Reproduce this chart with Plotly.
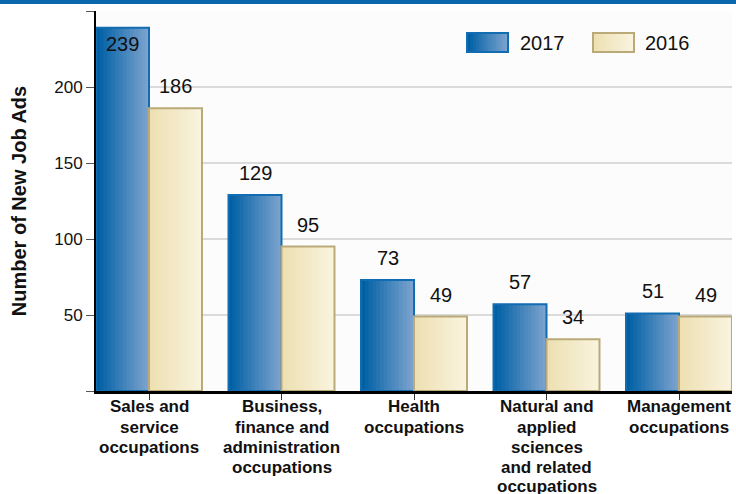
import plotly.graph_objects as go
import numpy as np

categories = ["Sales and<br>service<br>occupations",
              "Business,<br>finance and<br>administration<br>occupations",
              "Health<br>occupations",
              "Natural and<br>applied<br>sciences<br>and related<br>occupations",
              "Management<br>occupations"]
values_2017 = [239, 129, 73, 57, 51]
values_2016 = [186, 95, 49, 34, 49]
series_names = ["2017", "2016"]
y_ticks = [0, 50, 100, 150, 200, 250]
y_ticktext = ["", "50", "100", "150", "200", ""]

FONT = "Liberation Sans, Arial, sans-serif"
W, H = 736, 494
ML, MR, MT, MB = 96, 4, 11, 103
PW, PH = W - ML - MR, H - MT - MB

BAR_W = 0.4
N_STRIPS = 14
styles = {
    "2017": dict(left=(0, 96, 164), right=(122, 162, 206), border="rgb(18,108,178)"),
    "2016": dict(left=(237, 224, 178), right=(249, 243, 222), border="rgb(186,170,122)"),
}

def lerp(c1, c2, t):
    return "rgb(%d,%d,%d)" % tuple(round(a + (b - a) * t) for a, b in zip(c1, c2))

x = np.arange(len(categories))
fig = go.Figure()

for name, vals, base in [("2017", values_2017, -BAR_W), ("2016", values_2016, 0.0)]:
    st = styles[name]
    for i in range(N_STRIPS):
        t = i / (N_STRIPS - 1)
        fig.add_trace(go.Bar(
            x=x, y=vals, offset=base + i * BAR_W / N_STRIPS,
            width=BAR_W - i * BAR_W / N_STRIPS,
            marker=dict(color=lerp(st["left"], st["right"], t), line=dict(width=0)),
            showlegend=False, hoverinfo="skip"))
    fig.add_trace(go.Bar(
        x=x, y=vals, offset=base, width=BAR_W, name=name,
        marker=dict(color="rgba(0,0,0,0)", line=dict(color=st["border"], width=2)),
        showlegend=False))

annotations = []
for name, vals, dx in [("2017", values_2017, -BAR_W / 2), ("2016", values_2016, BAR_W / 2)]:
    for xi, v in zip(x, vals):
        inside = v > 225
        annotations.append(dict(
            x=xi + dx, y=v, xref="x", yref="y", text=str(v), showarrow=False,
            yanchor="top" if inside else "bottom", yshift=-3 if inside else 9,
            font=dict(family=FONT, size=20, color="#111")))

def px(xp):
    return (xp - ML) / PW

def py(yp):
    return (MT + PH - yp) / PH

# category labels, one annotation per line for tight line spacing
LINE_H = 20
FIRST_LINE_Y = 407
for xi, cat in zip(x, categories):
    for j, line in enumerate(cat.split("<br>")):
        annotations.append(dict(
            x=xi, y=py(FIRST_LINE_Y + j * LINE_H), xref="x", yref="paper", text=line,
            showarrow=False, xanchor="center", yanchor="middle",
            font=dict(family=FONT, size=17, color="#111", weight="bold")))

shapes = []
# top band
shapes.append(dict(type="rect", xref="paper", yref="paper",
                   x0=px(0), x1=px(W), y0=py(4), y1=py(0),
                   fillcolor="rgb(10,104,172)", line=dict(width=0), layer="above"))
# custom legend
legend_pos = {"2017": (467, 518), "2016": (593, 643)}
for name in series_names:
    st = styles[name]
    sx, tx = legend_pos[name]
    sw = 41
    for i in range(N_STRIPS):
        t = i / (N_STRIPS - 1)
        shapes.append(dict(type="rect", xref="paper", yref="paper",
                           x0=px(sx + i * sw / N_STRIPS), x1=px(sx + sw), y0=py(52), y1=py(33),
                           fillcolor=lerp(st["left"], st["right"], t), line=dict(width=0)))
    shapes.append(dict(type="rect", xref="paper", yref="paper",
                       x0=px(sx), x1=px(sx + sw), y0=py(52), y1=py(33),
                       fillcolor="rgba(0,0,0,0)", line=dict(color=st["border"], width=2)))
    annotations.append(dict(x=px(tx), y=py(43), xref="paper", yref="paper", text=name,
                            showarrow=False, xanchor="left", yanchor="middle",
                            font=dict(family=FONT, size=20, color="#111")))

fig.update_layout(
    width=W, height=H,
    margin=dict(l=ML, r=MR, t=MT, b=MB),
    paper_bgcolor="white", plot_bgcolor="#fcfcfc",
    barmode="overlay",
    showlegend=False,
    font=dict(family=FONT, color="#111"),
    annotations=annotations, shapes=shapes,
    xaxis=dict(range=[-0.4, 4.4], tickvals=list(x), ticktext=[""] * len(x), automargin=False,
               showgrid=False, showline=True, linecolor="black", linewidth=3,
               ticks="outside", ticklen=6, tickcolor="#333", tickwidth=1, zeroline=False),
    yaxis=dict(range=[0, 250], tickvals=y_ticks, ticktext=y_ticktext, automargin=False,
               tickfont=dict(family=FONT, size=17, color="#111"),
               showgrid=True, gridcolor="#dadada", gridwidth=2,
               showline=True, linecolor="black", linewidth=2,
               ticks="outside", ticklen=8, tickcolor="#555", tickwidth=1, zeroline=False,
               title=dict(text="Number of New Job Ads", standoff=22,
                          font=dict(family=FONT, size=20, color="#111", weight="bold"))),
)

fig.write_html("out.html", config={"displayModeBar": False},
               post_script="document.body.style.margin='0';document.body.style.overflow='hidden';")
